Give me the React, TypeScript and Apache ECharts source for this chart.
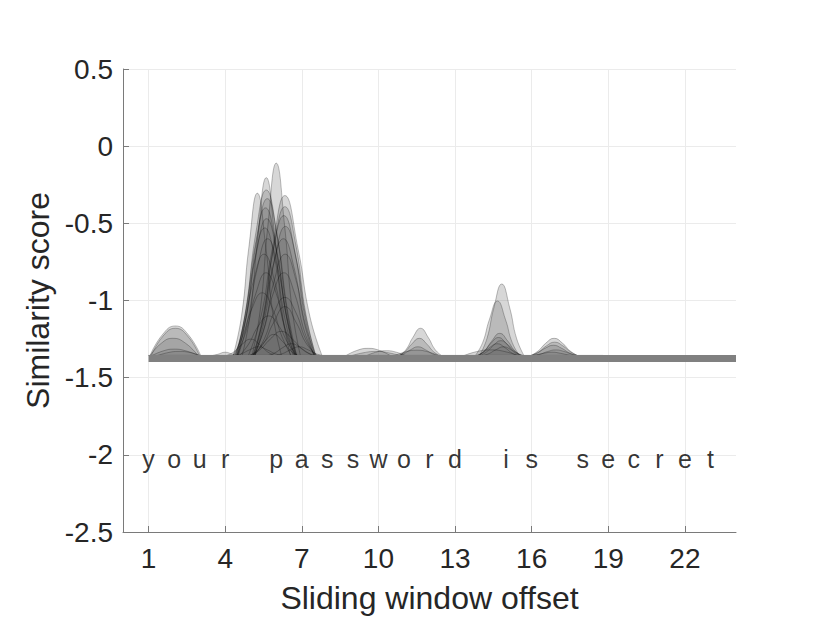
import React, { useEffect, useRef } from "react";
import * as echarts from "echarts";

// ---- data ----
const xTickValues = [1, 4, 7, 10, 13, 16, 19, 22];
const letters = ["y","o","u","r"," ","p","a","s","s","w","o","r","d"," ","i","s"," ","s","e","c","r","e","t"];
const letterLevel = -2;
const curveBase = -1.36;
const baselineBand = [[1, -1.376], [24, -1.376]];
const outlineFloor = [[1, -1.356], [18.8, -1.356]];

const bumpsNearOffset2 = [
  [[1.05,-1.36],[1.55,-1.22],[2.05,-1.165],[2.55,-1.22],[3.05,-1.36]],
  [[1.1,-1.36],[1.57,-1.23],[2.05,-1.18],[2.53,-1.23],[3.0,-1.36]],
  [[1.05,-1.36],[1.5,-1.277],[1.95,-1.245],[2.45,-1.277],[2.95,-1.36]],
  [[1.1,-1.36],[1.55,-1.328],[2.0,-1.315],[2.5,-1.328],[3.0,-1.36]],
  [[1.3,-1.36],[1.75,-1.338],[2.2,-1.33],[2.65,-1.338],[3.1,-1.36]],
  [[3.4,-1.36],[3.7,-1.349],[4.0,-1.335],[4.3,-1.349],[4.6,-1.36]],
];

const bumpsNearOffset5 = [
  [[4.31,-1.36],[4.64,-1.102],[4.93,-0.653],[5.26,-0.305],[5.59,-0.653],[5.88,-1.102],[6.21,-1.36]],
  [[4.66,-1.36],[4.99,-1.077],[5.28,-0.585],[5.61,-0.204],[5.94,-0.585],[6.23,-1.077],[6.56,-1.36]],
  [[4.46,-1.36],[4.83,-1.037],[5.21,-0.553],[5.61,-0.284],[6.01,-0.553],[6.39,-1.037],[6.76,-1.36]],
  [[4.50,-1.36],[4.87,-1.054],[5.25,-0.595],[5.65,-0.34],[6.05,-0.595],[6.43,-1.054],[6.80,-1.36]],
  [[4.43,-1.36],[4.80,-1.072],[5.18,-0.64],[5.58,-0.40],[5.98,-0.64],[6.36,-1.072],[6.73,-1.36]],
  [[4.47,-1.36],[4.84,-1.093],[5.22,-0.692],[5.62,-0.47],[6.02,-0.692],[6.40,-1.093],[6.77,-1.36]],
  [[4.40,-1.36],[4.77,-1.111],[5.15,-0.737],[5.55,-0.53],[5.95,-0.737],[6.33,-1.111],[6.70,-1.36]],
  [[4.51,-1.36],[4.88,-1.132],[5.26,-0.79],[5.66,-0.60],[6.06,-0.79],[6.44,-1.132],[6.81,-1.36]],
  [[4.37,-1.36],[4.74,-1.162],[5.12,-0.865],[5.52,-0.70],[5.92,-0.865],[6.30,-1.162],[6.67,-1.36]],
  [[4.45,-1.36],[4.82,-1.198],[5.20,-0.955],[5.60,-0.82],[6.00,-0.955],[6.38,-1.198],[6.75,-1.36]],
  [[4.30,-1.36],[4.67,-1.237],[5.05,-1.052],[5.45,-0.95],[5.85,-1.052],[6.23,-1.237],[6.60,-1.36]],
  [[4.55,-1.36],[4.92,-1.282],[5.30,-1.165],[5.70,-1.10],[6.10,-1.165],[6.48,-1.282],[6.85,-1.36]],
  [[4.0,-1.36],[4.34,-1.333],[4.65,-1.286],[5.0,-1.25],[5.35,-1.286],[5.66,-1.333],[6.0,-1.36]],
  [[4.3,-1.36],[4.64,-1.345],[4.95,-1.32],[5.3,-1.30],[5.65,-1.32],[5.96,-1.345],[6.3,-1.36]],
];

const bumpsNearOffset6 = [
  [[5.05,-1.36],[5.38,-1.054],[5.67,-0.52],[6.0,-0.11],[6.33,-0.52],[6.62,-1.054],[6.95,-1.36]],
  [[4.90,-1.36],[5.40,-1.105],[5.85,-0.663],[6.34,-0.32],[6.85,-0.663],[7.32,-1.105],[7.80,-1.36]],
  [[5.14,-1.36],[5.54,-1.07],[5.92,-0.634],[6.34,-0.392],[6.76,-0.634],[7.14,-1.07],[7.54,-1.36]],
  [[5.10,-1.36],[5.50,-1.087],[5.88,-0.677],[6.30,-0.45],[6.72,-0.677],[7.10,-1.087],[7.50,-1.36]],
  [[5.16,-1.36],[5.56,-1.108],[5.94,-0.73],[6.36,-0.52],[6.78,-0.73],[7.16,-1.108],[7.56,-1.36]],
  [[5.08,-1.36],[5.48,-1.132],[5.86,-0.79],[6.28,-0.60],[6.70,-0.79],[7.08,-1.132],[7.48,-1.36]],
  [[5.15,-1.36],[5.55,-1.162],[5.93,-0.865],[6.35,-0.70],[6.77,-0.865],[7.15,-1.162],[7.55,-1.36]],
  [[5.10,-1.36],[5.50,-1.198],[5.88,-0.955],[6.30,-0.82],[6.72,-0.955],[7.10,-1.198],[7.50,-1.36]],
  [[5.14,-1.36],[5.54,-1.246],[5.92,-1.075],[6.34,-0.98],[6.76,-1.075],[7.14,-1.246],[7.54,-1.36]],
  [[5.04,-1.36],[5.49,-1.282],[5.89,-1.146],[6.34,-1.04],[6.79,-1.146],[7.19,-1.282],[7.64,-1.36]],
  [[4.90,-1.36],[5.35,-1.321],[5.75,-1.253],[6.20,-1.20],[6.65,-1.253],[7.05,-1.321],[7.50,-1.36]],
  [[4.9,-1.36],[5.24,-1.326],[5.55,-1.266],[5.9,-1.22],[6.25,-1.266],[6.56,-1.326],[6.9,-1.36]],
  [[5.6,-1.36],[5.94,-1.34],[6.25,-1.306],[6.6,-1.28],[6.95,-1.306],[7.26,-1.34],[7.6,-1.36]],
  [[5.9,-1.36],[6.24,-1.345],[6.55,-1.32],[6.9,-1.30],[7.25,-1.32],[7.56,-1.345],[7.9,-1.36]],
];

const bumpsNearOffset11 = [
  [[8.7,-1.36],[9.15,-1.324],[9.6,-1.31],[10.05,-1.324],[10.5,-1.36]],
  [[9.5,-1.36],[9.9,-1.335],[10.3,-1.325],[10.7,-1.335],[11.1,-1.36]],
  [[8.9,-1.36],[9.4,-1.339],[9.9,-1.33],[10.4,-1.339],[10.9,-1.36]],
  [[10.8,-1.36],[11.09,-1.316],[11.35,-1.239],[11.65,-1.18],[11.95,-1.239],[12.21,-1.316],[12.5,-1.36]],
  [[10.75,-1.36],[11.04,-1.332],[11.3,-1.283],[11.6,-1.245],[11.9,-1.283],[12.16,-1.332],[12.45,-1.36]],
  [[10.7,-1.36],[10.99,-1.345],[11.25,-1.32],[11.55,-1.30],[11.85,-1.32],[12.11,-1.345],[12.4,-1.36]],
  [[10.6,-1.36],[11.05,-1.333],[11.5,-1.322],[11.95,-1.333],[12.4,-1.36]],
];

const bumpsNearOffset15 = [
  [[13.95,-1.36],[14.25,-1.246],[14.52,-1.047],[14.83,-0.893],[15.14,-1.047],[15.41,-1.246],[15.71,-1.36]],
  [[13.78,-1.36],[14.08,-1.273],[14.35,-1.121],[14.66,-1.003],[14.97,-1.121],[15.24,-1.273],[15.54,-1.36]],
  [[13.87,-1.36],[14.17,-1.324],[14.44,-1.262],[14.75,-1.213],[15.06,-1.262],[15.33,-1.324],[15.63,-1.36]],
  [[13.82,-1.36],[14.12,-1.331],[14.39,-1.28],[14.7,-1.24],[15.01,-1.28],[15.28,-1.331],[15.58,-1.36]],
  [[13.92,-1.36],[14.22,-1.335],[14.49,-1.293],[14.8,-1.26],[15.11,-1.293],[15.38,-1.335],[15.68,-1.36]],
  [[13.77,-1.36],[14.07,-1.34],[14.34,-1.306],[14.65,-1.28],[14.96,-1.306],[15.23,-1.34],[15.53,-1.36]],
  [[14.02,-1.36],[14.32,-1.345],[14.59,-1.32],[14.9,-1.30],[15.21,-1.32],[15.48,-1.345],[15.78,-1.36]],
  [[13.3,-1.36],[13.85,-1.331],[14.4,-1.32],[14.95,-1.331],[15.5,-1.36]],
];

const bumpsNearOffset17 = [
  [[15.93,-1.36],[16.26,-1.326],[16.55,-1.277],[16.88,-1.245],[17.21,-1.277],[17.5,-1.326],[17.83,-1.36]],
  [[15.95,-1.36],[16.28,-1.333],[16.57,-1.295],[16.9,-1.27],[17.23,-1.295],[17.52,-1.333],[17.85,-1.36]],
  [[15.9,-1.36],[16.23,-1.339],[16.52,-1.31],[16.85,-1.29],[17.18,-1.31],[17.47,-1.339],[17.8,-1.36]],
  [[16.0,-1.36],[16.33,-1.348],[16.62,-1.331],[16.95,-1.32],[17.28,-1.331],[17.57,-1.348],[17.9,-1.36]],
  [[15.85,-1.36],[16.18,-1.352],[16.47,-1.342],[16.8,-1.335],[17.13,-1.342],[17.42,-1.352],[17.75,-1.36]],
];

const FONT = '"Liberation Sans", Arial, Helvetica, sans-serif';
const TEXT = "#262626";

function bumpSeries(points: number[][]) {
  return {
    type: "line",
    data: points,
    smooth: 0.5,
    symbol: "none",
    showSymbol: false,
    silent: true,
    z: 2,
    lineStyle: { color: "rgba(0,0,0,0.36)", width: 0.7 },
    areaStyle: { color: "rgba(112,112,112,0.4)", origin: curveBase },
  };
}

export default function App() {
  const ref = useRef<HTMLDivElement>(null);
  useEffect(() => {
    document.body.style.margin = "0";
    const chart = echarts.init(ref.current!, null, { renderer: "svg" });
    const allBumps = [
      ...bumpsNearOffset2,
      ...bumpsNearOffset5,
      ...bumpsNearOffset6,
      ...bumpsNearOffset11,
      ...bumpsNearOffset15,
      ...bumpsNearOffset17,
    ];
    const letterData = letters
      .map((ch, i) => [i + 1, letterLevel, ch])
      .filter((d) => d[2] !== " ");
    chart.setOption({
      animation: false,
      grid: { left: 123, top: 69, width: 613, height: 463, containLabel: false },
      xAxis: {
        type: "value",
        min: 0,
        max: 24,
        name: "Sliding window offset",
        nameLocation: "middle",
        nameGap: 50,
        nameTextStyle: { fontSize: 32, color: TEXT, fontFamily: FONT },
        axisLine: { show: true, onZero: false, lineStyle: { color: "#7a7a7a", width: 1 } },
        axisTick: { show: true, inside: true, length: 6, customValues: xTickValues, lineStyle: { color: "#7a7a7a" } },
        axisLabel: { customValues: xTickValues, fontSize: 28, color: TEXT, fontFamily: FONT, margin: 12 },
        splitLine: { show: true, lineStyle: { color: "#ebebeb", width: 1 } },
      },
      yAxis: {
        type: "value",
        min: -2.5,
        max: 0.5,
        interval: 0.5,
        name: "Similarity score",
        nameLocation: "middle",
        nameGap: 66,
        nameTextStyle: { fontSize: 32, color: TEXT, fontFamily: FONT },
        axisLine: { show: true, onZero: false, lineStyle: { color: "#7a7a7a", width: 1 } },
        axisTick: { show: true, inside: true, length: 6, lineStyle: { color: "#7a7a7a" } },
        axisLabel: { fontSize: 28, color: TEXT, fontFamily: FONT, margin: 10 },
        splitLine: { show: true, lineStyle: { color: "#ebebeb", width: 1 } },
      },
      series: [
        ...allBumps.map(bumpSeries),
        {
          type: "line",
          data: outlineFloor,
          symbol: "none",
          silent: true,
          z: 3,
          lineStyle: { color: "rgba(0,0,0,0.5)", width: 1 },
        },
        {
          type: "line",
          data: baselineBand,
          symbol: "none",
          silent: true,
          z: 4,
          lineStyle: { color: "#808080", width: 7, cap: "butt" },
        },
        {
          type: "scatter",
          data: letterData,
          symbolSize: 0,
          silent: true,
          z: 5,
          label: {
            show: true,
            position: "inside",
            offset: [0, 4],
            formatter: (p: any) => p.value[2],
            fontSize: 25,
            color: "#000",
            fontFamily: FONT,
          },
        },
      ],
    });
    return () => chart.dispose();
  }, []);
  return <div ref={ref} style={{ width: 830, height: 642 }} />;
}
